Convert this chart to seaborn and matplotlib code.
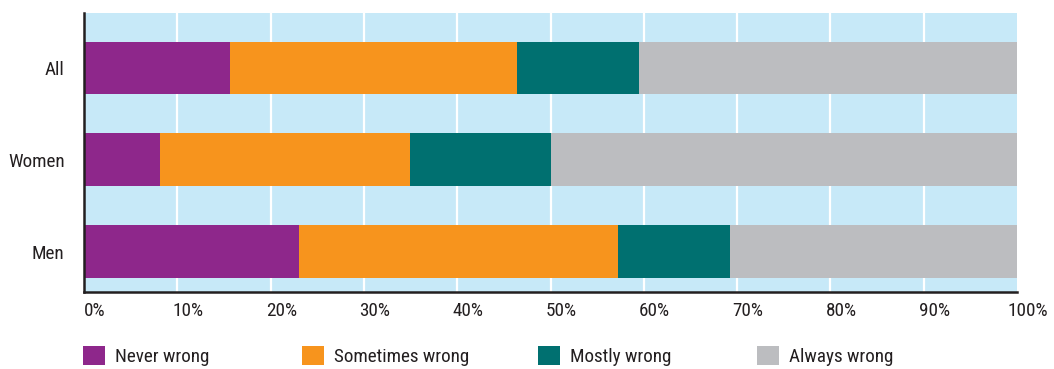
import numpy as np
import pandas as pd
import matplotlib
matplotlib.use("Agg")
import matplotlib.pyplot as plt
from matplotlib import font_manager as fm
from matplotlib.patches import Patch
from matplotlib.transforms import ScaledTranslation
import seaborn as sns

categories = ["All", "Women", "Men"]
series_names = ["Never wrong", "Sometimes wrong", "Mostly wrong", "Always wrong"]
never_wrong = [15.6, 8.1, 23.0]
sometimes_wrong = [30.8, 26.8, 34.2]
mostly_wrong = [13.1, 15.2, 12.0]
always_wrong = [40.5, 49.9, 30.8]
tick_values = [0, 10, 20, 30, 40, 50, 60, 70, 80, 90, 100]
tick_labels = ["0%", "10%", "20%", "30%", "40%", "50%", "60%", "70%", "80%", "90%", "100%"]

colors = ["#8E278B", "#F7941D", "#007070", "#BCBDC0"]
bg = "#C7E9F8"
dark = "#231F20"

sns.set_theme(style="white")

# pick a condensed sans-serif if one is installed
cands = []
for f in fm.fontManager.ttflist:
    nm = f.name
    st = str(f.stretch)
    if ("Narrow" in nm or "Condensed" in nm or st in ("condensed", "semi-condensed", "extra-condensed")) \
            and "Mono" not in nm and "Serif" not in nm and f.style == "normal" \
            and f.weight in (400, "normal", "regular"):
        cands.append(f)
font_name = None
stretch = "normal"
pref = ["Liberation Sans Narrow", "Roboto Condensed", "Open Sans Condensed", "DejaVu Sans"]
for p in pref:
    for f in cands:
        if f.name == p:
            font_name = p
            stretch = f.stretch
            break
    if font_name:
        break
if font_name is None and cands:
    font_name = cands[0].name
    stretch = cands[0].stretch
if font_name is None:
    font_name = "DejaVu Sans"

plt.rcParams["font.family"] = [font_name, "DejaVu Sans"]
plt.rcParams["font.stretch"] = stretch
fs = 13.8 if stretch != "normal" or "Narrow" in font_name else 12

fig = plt.figure(figsize=(10.54, 3.69), dpi=100)
W, H = 1054, 369
ax = fig.add_axes([84 / W, 1 - 292 / H, (1017 - 84) / W, (292 - 13) / H])
ax.set_facecolor(bg)

series = [never_wrong, sometimes_wrong, mostly_wrong, always_wrong]
cum = np.cumsum(np.array(series), axis=0)
df = pd.DataFrame({"cat": categories})
for i in range(len(series) - 1, -1, -1):
    df["v"] = cum[i]
    sns.barplot(data=df, x="v", y="cat", orient="h", color=colors[i],
                saturation=1, width=0.576, ax=ax, zorder=3, linewidth=0)

ax.set_xlim(0, 100)
ax.set_ylim(2.44, -0.6)
ax.set_xlabel("")
ax.set_ylabel("")
ax.set_xticks(tick_values)
ax.set_xticklabels(tick_labels)
for t in tick_values[1:-1]:
    ax.axvline(t, color="white", lw=1.6, zorder=1)

for s in ["top", "right"]:
    ax.spines[s].set_visible(False)
for s in ["left", "bottom"]:
    ax.spines[s].set_visible(True)
    ax.spines[s].set_color(dark)
    ax.spines[s].set_linewidth(1.8)
    ax.spines[s].set_zorder(5)

ax.tick_params(axis="x", length=0, pad=7, labelsize=fs, labelcolor=dark)
ax.tick_params(axis="y", length=0, pad=14, labelsize=fs, labelcolor=dark)
offset = ScaledTranslation(11 / 100, 0, fig.dpi_scale_trans)
for lab in ax.get_xticklabels():
    lab.set_transform(lab.get_transform() + offset)

legend_x = [83, 302, 538, 757]
for name, col, lx in zip(series_names, colors, legend_x):
    leg = fig.legend(handles=[Patch(facecolor=col, edgecolor="none", label=name)],
                     loc="center left", bbox_to_anchor=(lx / W, 1 - 356 / H),
                     frameon=False, borderpad=0, borderaxespad=0,
                     handlelength=1.17 * 13.5 / fs, handleheight=1.17 * 13.5 / fs,
                     handletextpad=0.55, fontsize=fs)
    for t in leg.get_texts():
        t.set_color(dark)

fig.savefig("out.png", dpi=100)
